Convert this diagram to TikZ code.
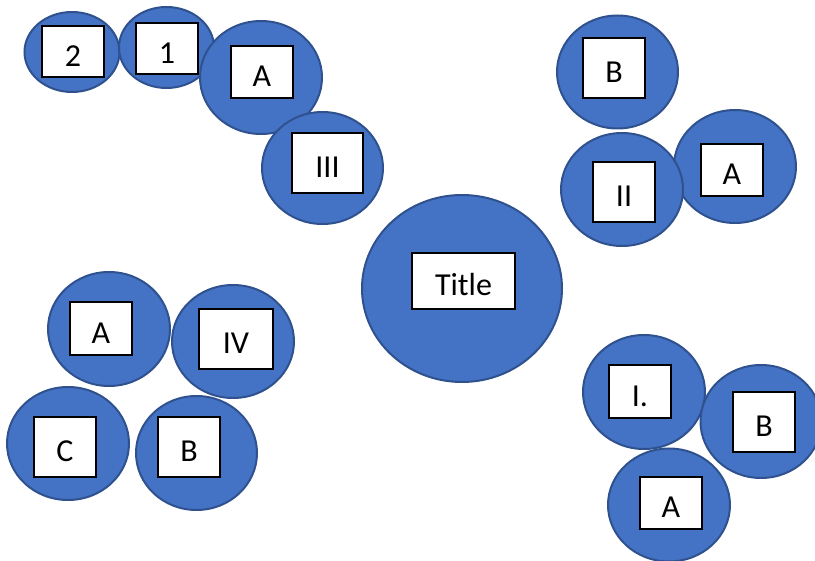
\documentclass[tikz,border=0pt]{standalone}
\usepackage{fontspec}
\setmainfont{Carlito}
\usetikzlibrary{shapes.geometric}
\definecolor{bubblefill}{HTML}{4472C4}
\definecolor{bubbleline}{HTML}{2F528F}

\begin{document}
\begin{tikzpicture}[x=1pt,y=-1pt,
    bubble/.style={ellipse,draw=bubbleline,fill=bubblefill,line width=2pt,inner sep=0pt},
    tag/.style={rectangle,draw=black,fill=white,line width=1.2pt,inner sep=0pt,
        minimum width=62pt,text height=29.5pt,text depth=0pt,
        font=\fontsize{32}{38}\selectfont}]
    \useasboundingbox (0,0) rectangle (815,561);
    % top left arc
    \node[bubble,minimum width=95pt,minimum height=80pt] (e2) at (72,52) {};
    \node[bubble,minimum width=95pt,minimum height=81pt] (e1) at (166.5,47.5) {};
    \node[bubble,minimum width=122pt,minimum height=113pt] (eA1) at (261,77.5) {};
    \node[bubble,minimum width=121pt,minimum height=112pt] (eIII) at (322.5,168) {};
    \node[tag,minimum height=51pt] (t2) at (73,51.5) {2};
    \node[tag,minimum height=51pt] (t1) at (167,48.5) {1};
    \node[tag,minimum height=52pt] (tA1) at (262,72) {A};
    \node[tag,minimum width=71pt,minimum height=60pt] (tIII) at (327.5,163) {III};
    % top right group
    \node[bubble,minimum width=121pt,minimum height=113pt] (eB2) at (617.5,72) {};
    \node[bubble,minimum width=122pt,minimum height=113pt] (eA2) at (735,166.5) {};
    \node[bubble,minimum width=122pt,minimum height=113pt] (eII) at (622,189.5) {};
    \node[tag,minimum height=60pt] (tB2) at (614,68) {B};
    \node[tag,minimum height=60pt] (tII) at (624,192) {II};
    \node[tag,minimum height=52pt] (tA2) at (732,170) {A};
    % centre
    \node[bubble,minimum width=200pt,minimum height=187pt] (etitle) at (462,288.5) {};
    \node[tag,minimum width=103pt,minimum height=56pt] (ttitle) at (463.5,281) {Title};
    % bottom left group
    \node[bubble,minimum width=122pt,minimum height=114pt] (eA4) at (109,329) {};
    \node[bubble,minimum width=122pt,minimum height=113pt] (eIV) at (233,341.5) {};
    \node[bubble,minimum width=122pt,minimum height=113pt] (eC) at (68,443.5) {};
    \node[bubble,minimum width=121pt,minimum height=114pt] (eB4) at (196.5,453) {};
    \node[tag,minimum height=53pt] (tA4) at (101,328.5) {A};
    \node[tag,minimum width=74pt,minimum height=60pt] (tIV) at (236,339) {IV};
    \node[tag,minimum height=60pt] (tC) at (65,447) {C};
    \node[tag,minimum height=60pt] (tB4) at (189,447) {B};
    % bottom right group
    \node[bubble,minimum width=122pt,minimum height=114pt] (eI) at (644,392) {};
    \node[bubble,minimum width=121pt,minimum height=113pt] (eB1) at (761,421.5) {};
    \node[bubble,minimum width=122pt,minimum height=113pt] (eA3) at (669,505) {};
    \node[tag,minimum height=53pt] (tI) at (640,391.5) {I.};
    \node[tag,minimum height=60pt] (tB1) at (764,422) {B};
    \node[tag,minimum height=52pt] (tA3) at (671,503) {A};
\end{tikzpicture}
\end{document}
